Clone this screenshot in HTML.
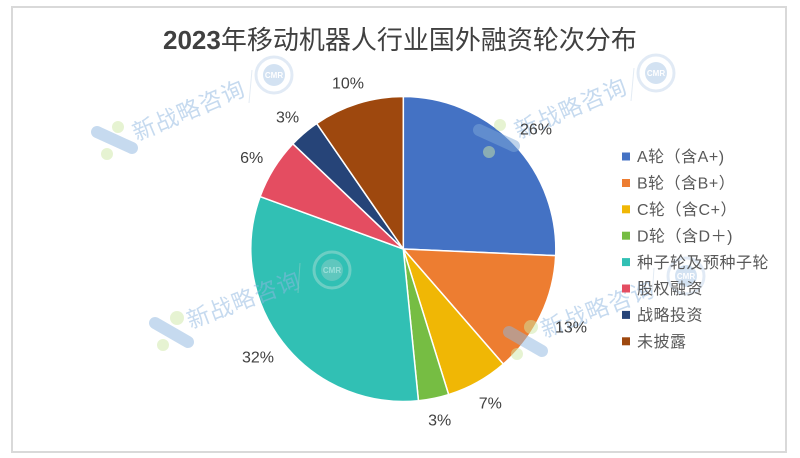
<!DOCTYPE html>
<html><head><meta charset="utf-8"><style>
html,body{margin:0;padding:0;background:#fff;}
svg{display:block;}
</style></head><body>
<svg width="800" height="458" viewBox="0 0 800 458" xmlns="http://www.w3.org/2000/svg">
<rect x="0" y="0" width="800" height="458" fill="#ffffff"/>
<rect x="12" y="7" width="774" height="445" fill="#ffffff" stroke="#d9d9d9" stroke-width="2"/>

<text x="163" y="49" font-family="'Liberation Sans','Noto Sans CJK SC',sans-serif" font-size="26" fill="#404040"><tspan font-weight="bold">2023</tspan><tspan>年移动机器人行业国外融资轮次分布</tspan></text>

<g stroke="#ffffff" stroke-width="1.5" stroke-linejoin="round">
<path d="M403.3,249 L403.3,96.5 A152.5,152.5 0 0 1 555.66,255.65 Z" fill="#4472C4"/>
<path d="M403.3,249 L555.66,255.65 A152.5,152.5 0 0 1 503.35,364.09 Z" fill="#ED7D31"/>
<path d="M403.3,249 L503.35,364.09 A152.5,152.5 0 0 1 448.65,394.60 Z" fill="#F0B705"/>
<path d="M403.3,249 L448.65,394.60 A152.5,152.5 0 0 1 418.45,400.75 Z" fill="#76BD43"/>
<path d="M403.3,249 L418.45,400.75 A152.5,152.5 0 0 1 260.09,196.59 Z" fill="#31C0B4"/>
<path d="M403.3,249 L260.09,196.59 A152.5,152.5 0 0 1 292.85,143.85 Z" fill="#E44D61"/>
<path d="M403.3,249 L292.85,143.85 A152.5,152.5 0 0 1 316.70,123.47 Z" fill="#264478"/>
<path d="M403.3,249 L316.70,123.47 A152.5,152.5 0 0 1 403.3,96.5 Z" fill="#9E480E"/>
</g>

<!-- watermarks -->
<g opacity="0.5">
  <!-- WM1 -->
  <line x1="97" y1="132" x2="132" y2="148" stroke="#8fb7e0" stroke-width="12" stroke-linecap="round"/>
  <circle cx="118" cy="127" r="6" fill="#cfe8a6"/>
  <circle cx="107" cy="154" r="6" fill="#cfe8a6"/>
  <text transform="translate(136.8,141.2) rotate(-23)" font-family="'Liberation Sans','Noto Sans CJK SC',sans-serif" font-size="23" letter-spacing="1" fill="#8fb7e0">新战略咨询</text>
  <line x1="252" y1="70" x2="249" y2="103" stroke="#c9d9ea" stroke-width="1"/>
  <circle cx="274" cy="75" r="18" fill="none" stroke="#c5d7ec" stroke-width="3"/>
  <circle cx="274" cy="75" r="11" fill="#a9c6e6"/>
  <text x="274" y="78" text-anchor="middle" font-family="'Liberation Sans',sans-serif" font-size="8" font-weight="bold" fill="#ffffff">CMR</text>

  <!-- WM2 -->
  <line x1="479" y1="130" x2="514" y2="146" stroke="#7fa8d8" stroke-width="12" stroke-linecap="round"/>
  <circle cx="500" cy="125" r="6" fill="#cfe8a6"/>
  <circle cx="489" cy="152" r="6" fill="#cfe8a6"/>
  <text transform="translate(518.8,139.2) rotate(-23)" font-family="'Liberation Sans','Noto Sans CJK SC',sans-serif" font-size="23" letter-spacing="1" fill="#8fb7e0">新战略咨询</text>
  <line x1="634" y1="68" x2="631" y2="101" stroke="#c9d9ea" stroke-width="1"/>
  <circle cx="656" cy="73" r="18" fill="none" stroke="#c5d7ec" stroke-width="3"/>
  <circle cx="656" cy="73" r="11" fill="#a9c6e6"/>
  <text x="656" y="76" text-anchor="middle" font-family="'Liberation Sans',sans-serif" font-size="8" font-weight="bold" fill="#ffffff">CMR</text>

  <!-- WM3 -->
  <line x1="155" y1="323" x2="188" y2="342" stroke="#8fb7e0" stroke-width="12" stroke-linecap="round"/>
  <circle cx="177" cy="318" r="7" fill="#cfe8a6"/>
  <circle cx="163" cy="345" r="6" fill="#cfe8a6"/>
  <text transform="translate(190.6,329) rotate(-21)" font-family="'Liberation Sans','Noto Sans CJK SC',sans-serif" font-size="23" letter-spacing="1" fill="#8fb7e0">新战略咨询</text>
  <line x1="300" y1="263" x2="298" y2="293" stroke="#9fd0c8" stroke-width="1"/>
  <circle cx="332" cy="270" r="18" fill="none" stroke="#a8dcd4" stroke-width="3"/>
  <circle cx="332" cy="270" r="11" fill="#8fcfc8"/>
  <text x="332" y="273" text-anchor="middle" font-family="'Liberation Sans',sans-serif" font-size="8" font-weight="bold" fill="#ffffff">CMR</text>

  <!-- WM4 -->
  <line x1="509" y1="332" x2="542" y2="351" stroke="#8fb7e0" stroke-width="12" stroke-linecap="round"/>
  <circle cx="531" cy="327" r="7" fill="#cfe8a6"/>
  <circle cx="517" cy="354" r="6" fill="#cfe8a6"/>
  <text transform="translate(544.6,338) rotate(-21)" font-family="'Liberation Sans','Noto Sans CJK SC',sans-serif" font-size="23" letter-spacing="1" fill="#8fb7e0">新战略咨询</text>
  <line x1="654" y1="268" x2="652" y2="298" stroke="#c9d9ea" stroke-width="1"/>
  <circle cx="686" cy="276" r="18" fill="none" stroke="#c5d7ec" stroke-width="3"/>
  <circle cx="686" cy="276" r="11" fill="#a9c6e6"/>
  <text x="686" y="279" text-anchor="middle" font-family="'Liberation Sans',sans-serif" font-size="8" font-weight="bold" fill="#ffffff">CMR</text>
</g>

<!-- data labels -->
<g font-family="'Liberation Sans',sans-serif" font-size="16" fill="#404040" text-anchor="middle">
  <text x="536" y="134.7">26%</text>
  <text x="555" y="332.4" text-anchor="start">13%</text>
  <text x="490.3" y="408.4">7%</text>
  <text x="439.7" y="425.7">3%</text>
  <text x="258" y="362.4">32%</text>
  <text x="251.7" y="163">6%</text>
  <text x="287.5" y="122.4">3%</text>
  <text x="348" y="88.7">10%</text>
</g>

<!-- legend -->
<g font-family="'Liberation Sans','Noto Sans CJK SC',sans-serif" font-size="16" fill="#595959" letter-spacing="0.5">
  <rect x="622" y="152.5" width="8" height="8" fill="#4472C4"/>
  <text x="637" y="162.2">A轮（含A+)</text>
  <rect x="622" y="179" width="8" height="8" fill="#ED7D31"/>
  <text x="637" y="188.7">B轮（含B+）</text>
  <rect x="622" y="205.3" width="8" height="8" fill="#F0B705"/>
  <text x="637" y="215">C轮（含C+）</text>
  <rect x="622" y="231.7" width="8" height="8" fill="#76BD43"/>
  <text x="637" y="241.4">D轮（含D＋)</text>
  <rect x="622" y="258.1" width="8" height="8" fill="#31C0B4"/>
  <text x="637" y="267.8">种子轮及预种子轮</text>
  <rect x="622" y="284.5" width="8" height="8" fill="#E44D61"/>
  <text x="637" y="294.2">股权融资</text>
  <rect x="622" y="310.9" width="8" height="8" fill="#264478"/>
  <text x="637" y="320.6">战略投资</text>
  <rect x="622" y="337.3" width="8" height="8" fill="#9E480E"/>
  <text x="637" y="347">未披露</text>
</g>
</svg>
</body></html>
